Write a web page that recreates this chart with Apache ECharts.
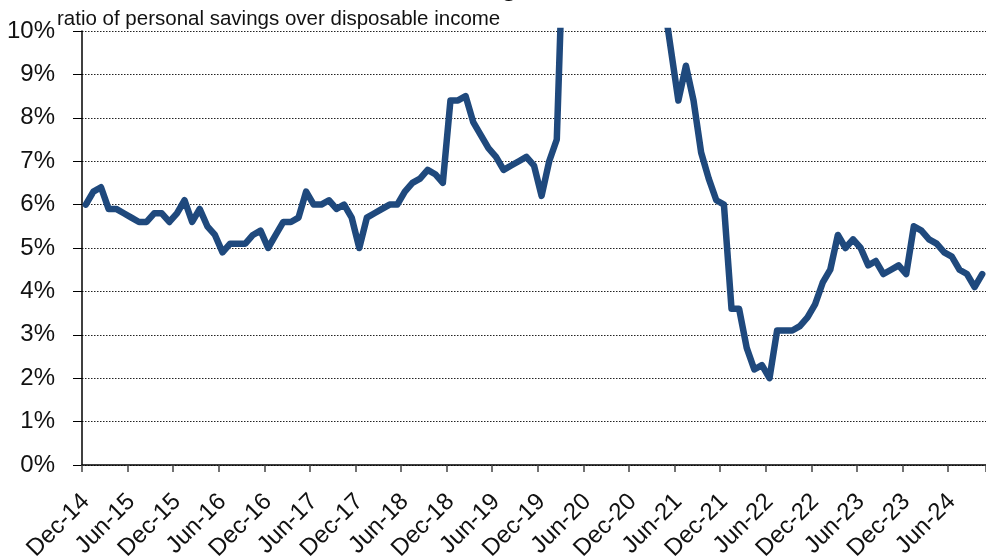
<!DOCTYPE html>
<html>
<head>
<meta charset="utf-8">
<script src="https://cdn.jsdelivr.net/npm/echarts@6/dist/echarts.min.js"></script>
<style>
html,body{margin:0;padding:0;background:#fff;}
#chart{width:986px;height:560px;}
</style>
</head>
<body>
<div id="chart"></div>
<script>
// Monthly categories Dec-14 .. Oct-24
const monthNames = ['Jan','Feb','Mar','Apr','May','Jun','Jul','Aug','Sep','Oct','Nov','Dec'];
const startYear = 2014, startMonth = 11, monthCount = 119;
const months = [];
for (let k = 0; k < monthCount; k++) {
  const m = (startMonth + k) % 12;
  const y = startYear + Math.floor((startMonth + k) / 12);
  months.push(monthNames[m] + '-' + String(y).slice(2));
}

// Personal savings rate, % of disposable income
const savingsRate = [
  6.0, 6.3, 6.4, 5.9, 5.9, 5.8, 5.7, 5.6, 5.6, 5.8, 5.8, 5.6,
  5.8, 6.1, 5.6, 5.9, 5.5, 5.3, 4.9, 5.1, 5.1, 5.1, 5.3, 5.4,
  5.0, 5.3, 5.6, 5.6, 5.7, 6.3, 6.0, 6.0, 6.1, 5.9, 6.0, 5.7,
  5.0, 5.7, 5.8, 5.9, 6.0, 6.0, 6.3, 6.5, 6.6, 6.8, 6.7, 6.5,
  8.4, 8.4, 8.5, 7.9, 7.6, 7.3, 7.1, 6.8, 6.9, 7.0, 7.1, 6.9,
  6.2, 7.0, 7.5, 12.9, 33.8, 24.7, 19.2, 19.2, 14.7, 14.7, 13.9, 13.0,
  13.3, 19.8, 13.7, 26.1, 10.8, 9.6, 8.4, 9.2, 8.4, 7.2, 6.6, 6.1,
  6.0, 3.6, 3.6, 2.7, 2.2, 2.3, 2.0, 3.1, 3.1, 3.1, 3.2, 3.4,
  3.7, 4.2, 4.5, 5.3, 5.0, 5.2, 5.0, 4.6, 4.7, 4.4, 4.5, 4.6,
  4.4, 5.5, 5.4, 5.2, 5.1, 4.9, 4.8, 4.5, 4.4, 4.1, 4.4
];

const titleText = 'Personal Saving Rate';
const subtitleText = 'ratio of personal savings over disposable income';

const FONT = '"Liberation Sans", Arial, sans-serif';
const chart = echarts.init(document.getElementById('chart'), null, {renderer: 'canvas'});
chart.setOption({
  animation: false,
  backgroundColor: '#ffffff',
  graphic: [
    {
      type: 'text', left: 300, top: -27, z: 10,
      style: {text: titleText, font: 'bold 28px ' + FONT, fill: '#000'}
    },
    {
      type: 'text', left: 57, top: 9, z: 10,
      style: {text: subtitleText, font: '20.5px ' + FONT, fill: '#111'}
    }
  ],
  grid: {left: 82, right: 0, top: 31, bottom: 95, containLabel: false, outerBoundsMode: 'none'},
  xAxis: {
    type: 'category',
    data: months,
    boundaryGap: true,
    axisLine: {show: true, lineStyle: {color: '#000', width: 1.5}},
    axisTick: {show: true, interval: 5, length: 7, lineStyle: {color: '#444', width: 1.5}},
    axisLabel: {
      interval: 5, rotate: 45, margin: 33,
      fontFamily: FONT, fontSize: 24, color: '#111'
    },
    splitLine: {show: false}
  },
  yAxis: {
    type: 'value',
    min: 0, max: 10, interval: 1,
    axisLine: {show: true, lineStyle: {color: '#000', width: 1.5}},
    axisTick: {show: true, length: 9, lineStyle: {color: '#000', width: 1}},
    axisLabel: {formatter: '{value}%', margin: 27, fontFamily: FONT, fontSize: 24, color: '#111'},
    splitLine: {show: true, lineStyle: {color: '#222', width: 1, type: [1.5, 1.5]}}
  },
  series: [{
    type: 'line',
    data: savingsRate,
    showSymbol: false,
    symbol: 'none',
    clip: true,
    lineStyle: {color: '#1F497D', width: 6.5, cap: 'round', join: 'round'},
    z: 5
  }]
});
</script>
</body>
</html>
